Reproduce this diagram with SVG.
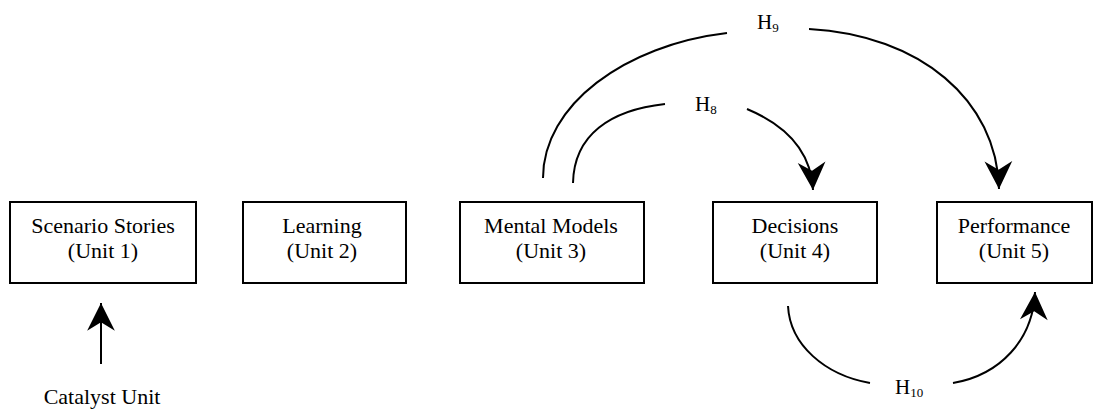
<svg xmlns="http://www.w3.org/2000/svg" width="1094" height="412" viewBox="0 0 1094 412">
<style>
.box{fill:#fff;stroke:#000;stroke-width:2}
.t{font-size:22px;fill:#000;text-anchor:middle}
.h{font-size:21px;fill:#000}
.c{fill:none;stroke:#000;stroke-width:2}
</style>
<defs>
<marker id="ah" markerUnits="userSpaceOnUse" markerWidth="32" markerHeight="32" viewBox="-28 -15 30 30" refX="0" refY="0" orient="auto">
<path d="M0,0 L-26,-13 L-18,0 L-26,13 Z" fill="#000"/>
</marker>
</defs>
<rect width="1094" height="412" fill="#fff"/>
<g font-family="Liberation Serif, Times New Roman, DejaVu Serif, serif">
<g id="n1"><rect class="box" x="10" y="202" width="186" height="81"/><text class="t" x="103" y="233">Scenario Stories</text><text class="t" x="103" y="258">(Unit 1)</text></g>
<g id="n2"><rect class="box" x="243" y="202" width="163" height="81"/><text class="t" x="322" y="233">Learning</text><text class="t" x="322" y="258">(Unit 2)</text></g>
<g id="n3"><rect class="box" x="460" y="202" width="184" height="81"/><text class="t" x="551" y="233">Mental Models</text><text class="t" x="551" y="258">(Unit 3)</text></g>
<g id="n4"><rect class="box" x="713" y="202" width="164" height="81"/><text class="t" x="795" y="233">Decisions</text><text class="t" x="795" y="258">(Unit 4)</text></g>
<g id="n5"><rect class="box" x="937" y="202" width="155" height="81"/><text class="t" x="1014" y="233">Performance</text><text class="t" x="1014" y="258">(Unit 5)</text></g>
<g id="catalyst"><text class="t" x="102" y="404">Catalyst Unit</text></g>
<g id="connectors">
<path class="c" d="M101,364 L101,303" marker-end="url(#ah)"/>
<path class="c" d="M543,178 C543,105 625,45 727,33"/>
<path class="c" d="M809,29 C920,35 997,100 999,189" marker-end="url(#ah)"/>
<path class="c" d="M573,183 C574,135 610,110 665,104"/>
<path class="c" d="M747,109 C785,125 811,150 813,190" marker-end="url(#ah)"/>
<path class="c" d="M788,306 C790,345 825,375 870,383"/>
<path class="c" d="M953,383 C1000,375 1033,340 1035,292" marker-end="url(#ah)"/>
</g>
<g id="labels">
<text class="h" x="757" y="29">H<tspan font-size="13" dy="3" fill="#000">9</tspan></text>
<text class="h" x="695" y="111">H<tspan font-size="13" dy="3" fill="#000">8</tspan></text>
<text class="h" x="895" y="394">H<tspan font-size="13" dy="3" fill="#000">10</tspan></text>
</g>
</g>
</svg>
